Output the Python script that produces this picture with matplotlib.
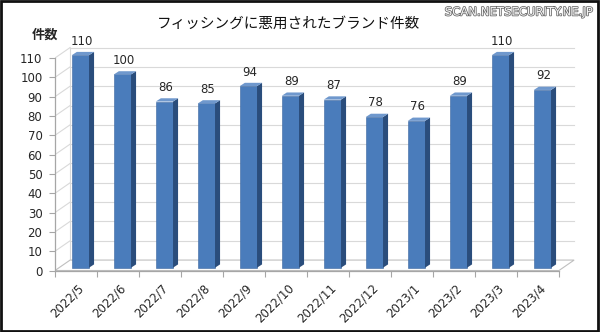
import matplotlib
matplotlib.use("Agg")
import matplotlib.pyplot as plt
from matplotlib.patches import Polygon, Rectangle
import matplotlib.patheffects as pe

plt.rcParams['font.family'] = ['Noto Sans CJK JP', 'DejaVu Sans']

months = ["2022/5", "2022/6", "2022/7", "2022/8", "2022/9", "2022/10",
          "2022/11", "2022/12", "2023/1", "2023/2", "2023/3", "2023/4"]
counts = [110, 100, 86, 85, 94, 89, 87, 78, 76, 89, 110, 92]
yticks = list(range(0, 111, 10))
title = "フィッシングに悪用されたブランド件数"
ylabel = "件数"
credit = "SCAN.NETSECURITY.NE.JP"

W, H = 600, 332
fig = plt.figure(figsize=(W / 100, H / 100), dpi=100)
fig.patch.set_facecolor("white")

# axes mapping: x=0 at px 55, 42 px per category; y=0 at px 270.5, 1.932 px per unit
px_x0, px_y0 = 55, 270.5
ux, uy = 42.0, 1.932
ax_w_px, ax_h_px = 525, 232
ax = fig.add_axes([px_x0 / W, (H - px_y0) / H, ax_w_px / W, ax_h_px / H])
ax.set_xlim(0, ax_w_px / ux)
ax.set_ylim(0, ax_h_px / uy)
ax.set_facecolor("none")

n = len(months)
dx, dy = 0.36, 5.4          # 3D depth offset (data units)
grid_c = "#d9d9d9"

# floor
ax.add_patch(Polygon([(0, 0), (n, 0), (n + dx, dy), (dx, dy)], closed=True,
                     facecolor="white", edgecolor="#bfbfbf", lw=0.8, zorder=1))
# back wall / side wall gridlines
for v in yticks[1:]:
    ax.plot([dx, n + dx], [v + dy, v + dy], color=grid_c, lw=0.8, zorder=0.5)
    ax.plot([0, dx], [v, v + dy], color=grid_c, lw=0.8, zorder=0.5)
ax.plot([dx, dx], [dy, yticks[-1] + dy], color=grid_c, lw=0.8, zorder=0.5)

# bars
front_c, side_c, top_c = "#4a7cbb", "#2a4d7c", "#6f98cd"
bl, br = 0.40, 0.81
sx, sy = 0.12, 1.7
base = 1.45
for i, v in enumerate(counts):
    x0, x1 = i + bl, i + br
    ax.bar(x0, v, width=br - bl, bottom=base, align="edge", color=front_c,
           edgecolor="#3a66a0", lw=0.4, zorder=3)
    ax.add_patch(Polygon([(x1, base), (x1 + sx, base + sy), (x1 + sx, v + base + sy), (x1, v + base)],
                         closed=True, facecolor=side_c, edgecolor="none", zorder=3))
    ax.add_patch(Polygon([(x0, v + base), (x1, v + base), (x1 + sx, v + base + sy), (x0 + sx, v + base + sy)],
                         closed=True, facecolor=top_c, edgecolor="none", zorder=3))
    ax.text((x0 + x1) / 2 + 0.03, v + base + sy + 2.2, str(v), ha="center", va="bottom",
            fontsize=8.5, color="#262626", family="DejaVu Sans", zorder=4)

# spines and ticks
for s in ["top", "right"]:
    ax.spines[s].set_visible(False)
ax.spines["left"].set_bounds(0, yticks[-1])
ax.spines["bottom"].set_bounds(0, n)
for s in ["left", "bottom"]:
    ax.spines[s].set_color("#a6a6a6")
    ax.spines[s].set_linewidth(0.9)
ax.set_yticks(yticks)
ax.set_yticklabels([str(t) for t in yticks], fontsize=8.5, color="#262626", family="DejaVu Sans")
ax.tick_params(axis="y", length=4, color="#a6a6a6", pad=5)
ax.set_xticks(range(n + 1))
ax.set_xticklabels([])
ax.tick_params(axis="x", which="major", length=4, color="#a6a6a6")
ax.set_xticks([i + 0.5 + 0.03 for i in range(n)], minor=True)
ax.set_xticklabels(months, minor=True, rotation=45, ha="right", rotation_mode="anchor",
                   fontsize=8.5, color="#262626", family="DejaVu Sans")
ax.tick_params(axis="x", which="minor", length=0, pad=8)

# texts
fig.text(289 / W, 1 - 24 / H, title, ha="center", va="center", fontsize=10.5, color="#111111")
fig.text(45 / W, 1 - 35 / H, ylabel, ha="center", va="center", fontsize=9.5, fontweight="bold", color="#262626")
fig.text(592 / W, 1 - 12 / H, credit, ha="right", va="center", fontsize=8.4, color="#f4f4f4",
         family="DejaVu Sans",
         path_effects=[pe.Stroke(linewidth=1.1, foreground="#666666"), pe.Normal()])

# outer border
fig.add_artist(Rectangle((0.001, 0.002), 0.996, 0.995, transform=fig.transFigure,
                         fill=False, edgecolor="#111111", lw=2))

fig.savefig("out.png", dpi=100)
